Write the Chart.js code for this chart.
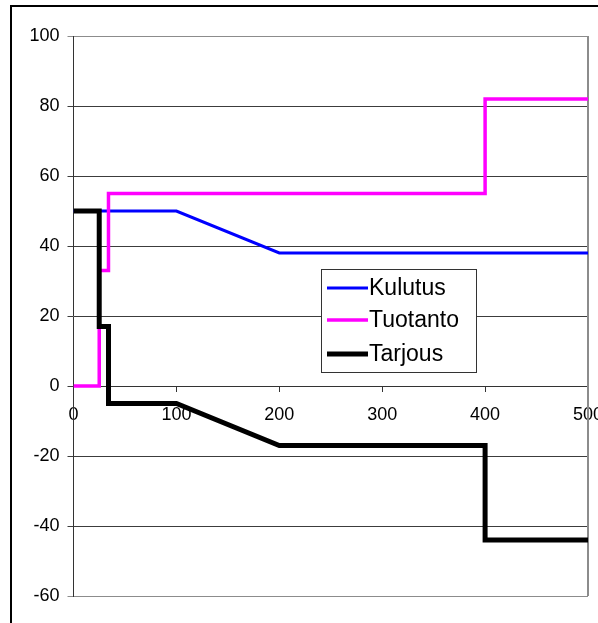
<!DOCTYPE html>
<html>
<head>
<meta charset="utf-8">
<script src="https://cdn.jsdelivr.net/npm/chart.js@4/dist/chart.umd.min.js"></script>
<style>
  html, body { margin: 0; padding: 0; background: #fff; overflow: hidden; }
  canvas { display: block; }
</style>
</head>
<body>
<canvas id="c" width="598" height="623"></canvas>
<script>
// Series break points (x = quantity, y = price)
const kulutusX  = [0, 100, 200, 500];
const kulutusY  = [50, 50, 38, 38];
const tuotantoX = [0, 25, 25, 34, 34, 400, 400, 500];
const tuotantoY = [0, 0, 33, 33, 55, 55, 82, 82];
const tarjousX  = [0, 25, 25, 34, 34, 100, 200, 400, 400, 500];
const tarjousY  = [50, 50, 17, 17, -5, -5, -17, -17, -44, -44];

const seriesNames = ['Kulutus', 'Tuotanto', 'Tarjous'];
const xTicks = [0, 100, 200, 300, 400, 500];
const yTicks = [-60, -40, -20, 0, 20, 40, 60, 80, 100];

const pts = (xs, ys) => xs.map((x, i) => ({ x: x, y: ys[i] }));

const FONT = '"Liberation Sans", Arial, sans-serif';

// White page background and the outer frame
const frame = {
  id: 'frame',
  beforeDraw(chart) {
    const c = chart.ctx;
    c.save();
    c.fillStyle = '#fff';
    c.fillRect(0, 0, chart.width, chart.height);
    c.restore();
  },
  afterDraw(chart) {
    const c = chart.ctx;
    c.save();
    c.strokeStyle = '#000';
    c.lineWidth = 2;
    c.strokeRect(11, 6, chart.width + 20, chart.height + 20);
    c.restore();
  }
};

// Grey right-hand edge of the plot area
const plotEdge = {
  id: 'plotEdge',
  beforeDatasetsDraw(chart) {
    const a = chart.chartArea, c = chart.ctx;
    c.save();
    c.strokeStyle = '#8c8c8c';
    c.lineWidth = 2;
    c.beginPath();
    c.moveTo(a.right, a.top);
    c.lineTo(a.right, a.bottom);
    c.stroke();
    c.restore();
  }
};

// Boxed legend inside the plot
const boxLegend = {
  id: 'boxLegend',
  afterDatasetsDraw(chart) {
    const c = chart.ctx;
    const bx = 321, by = 269, bw = 155, bh = 103;
    const rows = [288, 320, 354];
    c.save();
    c.fillStyle = '#fff';
    c.fillRect(bx, by, bw, bh);
    c.strokeStyle = '#333';
    c.lineWidth = 1;
    c.strokeRect(bx + 0.5, by + 0.5, bw, bh);
    [0, 1, 2].forEach((i, r) => {
      const ds = chart.data.datasets.find(d => d.label === seriesNames[i]);
      c.strokeStyle = ds.borderColor;
      c.lineWidth = ds.borderWidth;
      c.lineCap = 'butt';
      c.beginPath();
      c.moveTo(327, rows[r]);
      c.lineTo(368, rows[r]);
      c.stroke();
      c.fillStyle = '#000';
      c.font = '23px ' + FONT;
      c.textBaseline = 'middle';
      c.textAlign = 'left';
      c.fillText(ds.label, 369, rows[r] + 1);
    });
    c.restore();
  }
};

new Chart(document.getElementById('c'), {
  type: 'line',
  data: {
    datasets: [
      { label: seriesNames[2], data: pts(tarjousX, tarjousY), borderColor: '#000000',
        borderWidth: 5, order: 1 },
      { label: seriesNames[1], data: pts(tuotantoX, tuotantoY), borderColor: '#ff00ff',
        borderWidth: 3.5, order: 2 },
      { label: seriesNames[0], data: pts(kulutusX, kulutusY), borderColor: '#0000ff',
        borderWidth: 3, order: 3 }
    ].map(d => Object.assign(d, {
      pointRadius: 0, pointHoverRadius: 0, tension: 0, fill: false,
      borderJoinStyle: 'miter', borderCapStyle: 'butt'
    }))
  },
  options: {
    responsive: false,
    animation: false,
    events: [],
    layout: { padding: { left: 0, top: 36, right: 10, bottom: 27 } },
    plugins: { legend: { display: false }, tooltip: { enabled: false } },
    scales: {
      x: {
        type: 'linear',
        min: 0, max: 500,
        position: { y: 0 },
        afterBuildTicks: s => { s.ticks = xTicks.map(v => ({ value: v })); },
        afterFit: s => { s.paddingLeft = 0; s.paddingRight = 0; },
        ticks: { color: '#000', font: { family: FONT, size: 18 }, padding: 13, maxRotation: 0 },
        grid: { drawOnChartArea: false, drawTicks: true, tickLength: 5, color: '#333' },
        border: { color: '#333', width: 1 }
      },
      y: {
        type: 'linear',
        min: -60, max: 100,
        afterBuildTicks: s => { s.ticks = yTicks.map(v => ({ value: v })); },
        afterFit: s => { s.width = 73.5; s.paddingTop = 0; s.paddingBottom = 0; },
        ticks: { color: '#000', font: { family: FONT, size: 18 }, padding: 8 },
        grid: {
          tickLength: 6,
          color: ctx => (ctx.tick && (ctx.tick.value === 100 || ctx.tick.value === -60)) ? '#8c8c8c' : '#3c3c3c'
        },
        border: { color: '#333', width: 1 }
      }
    }
  },
  plugins: [frame, plotEdge, boxLegend]
});
</script>
</body>
</html>
